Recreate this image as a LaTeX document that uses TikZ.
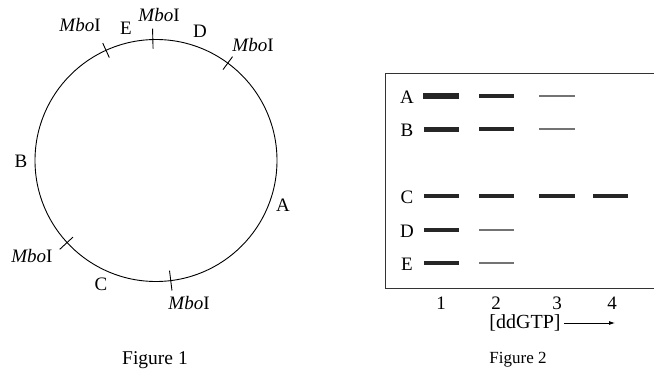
\documentclass[tikz,border=0pt]{standalone}
\usepackage{fontspec}
\setmainfont{Liberation Serif}
\usetikzlibrary{arrows.meta,calc}
\begin{document}
\begin{tikzpicture}[x=1pt,y=-1pt,
  lbl/.style={inner sep=0pt,font=\fontsize{19}{22}\selectfont},
  figcap/.style={inner sep=0pt,font=\fontsize{#1}{22}\selectfont},
  band/.style={line width=#1,black!85},
  faint/.style={line width=1.6pt,black!55},
  tickmark/.style={line width=0.9pt}]
\useasboundingbox (0,0) rectangle (654,372);
% Figure 1 (angles negated because y points down)
\coordinate (O) at (156,160.5);
\draw[line width=0.9pt] (O) circle[radius=121];
\draw[tickmark] ($(O)+(-91.5:112)$) -- ($(O)+(-91.5:132)$);
\draw[tickmark] ($(O)+(-114.4:113)$) -- ($(O)+(-114.4:129)$);
\draw[tickmark] ($(O)+(-53.6:113)$) -- ($(O)+(-53.6:129)$);
\draw[tickmark] ($(O)+(-222.7:113)$) -- ($(O)+(-222.7:131)$);
\draw[tickmark] ($(O)+(-277:111)$) -- ($(O)+(-277:131)$);
\node[lbl] (m1) at (80,25) {\textit{Mbo}I};
\node[lbl] (e1) at (126,28) {E};
\node[lbl] (m2) at (159,15) {\textit{Mbo}I};
\node[lbl] (d1) at (200,31) {D};
\node[lbl] (m3) at (253,45) {\textit{Mbo}I};
\node[lbl] (b1) at (21,161) {B};
\node[lbl] (a1) at (283,205) {A};
\node[lbl] (m4) at (32,256) {\textit{Mbo}I};
\node[lbl] (c1) at (101,284) {C};
\node[lbl] (m5) at (189,303) {\textit{Mbo}I};
\node[figcap=19.5] (f1) at (155,360) {Figure 1};
% Figure 2
\draw[line width=0.9pt,black!80] (654,73) -- (385,73) -- (385,288) -- (654,288);
\node[lbl] (A) at (407,97) {A};
\node[lbl] (B) at (407,130) {B};
\node[lbl] (C) at (407,197) {C};
\node[lbl] (D) at (407,231) {D};
\node[lbl] (E) at (407,264) {E};
\draw[band=6pt] (423,96) -- (459,96);
\draw[band=4pt] (479,96) -- (514,96);
\draw[faint] (539,96) -- (575,96);
\draw[band=5pt] (424,129) -- (459,129);
\draw[band=4.5pt] (479,129) -- (514,129);
\draw[faint] (539,129) -- (575,129);
\draw[band=4.5pt] (424,196) -- (459,196);
\draw[band=4.5pt] (479,196) -- (514,196);
\draw[band=4.5pt] (539,196) -- (575,196);
\draw[band=4.5pt] (593,196) -- (628,196);
\draw[band=4pt] (424,230) -- (459,230);
\draw[faint] (479,230) -- (514,230);
\draw[band=3.5pt] (424,263) -- (459,263);
\draw[faint] (479,263) -- (514,263);
\node[lbl] (l1) at (441,303) {1};
\node[lbl] (l2) at (496,303) {2};
\node[lbl] (l3) at (557,303) {3};
\node[lbl] (l4) at (612,303) {4};
\node[figcap=20] (dd) at (525,323) {[ddGTP]};
\coordinate (arr) at (615,323);
\draw[line width=0.8pt,-{Latex[length=6pt,width=4pt]}] (dd.east) ++(3,0) -- (arr);
\node[figcap=17] (f2) at (518,360) {Figure 2};
\end{tikzpicture}
\end{document}
